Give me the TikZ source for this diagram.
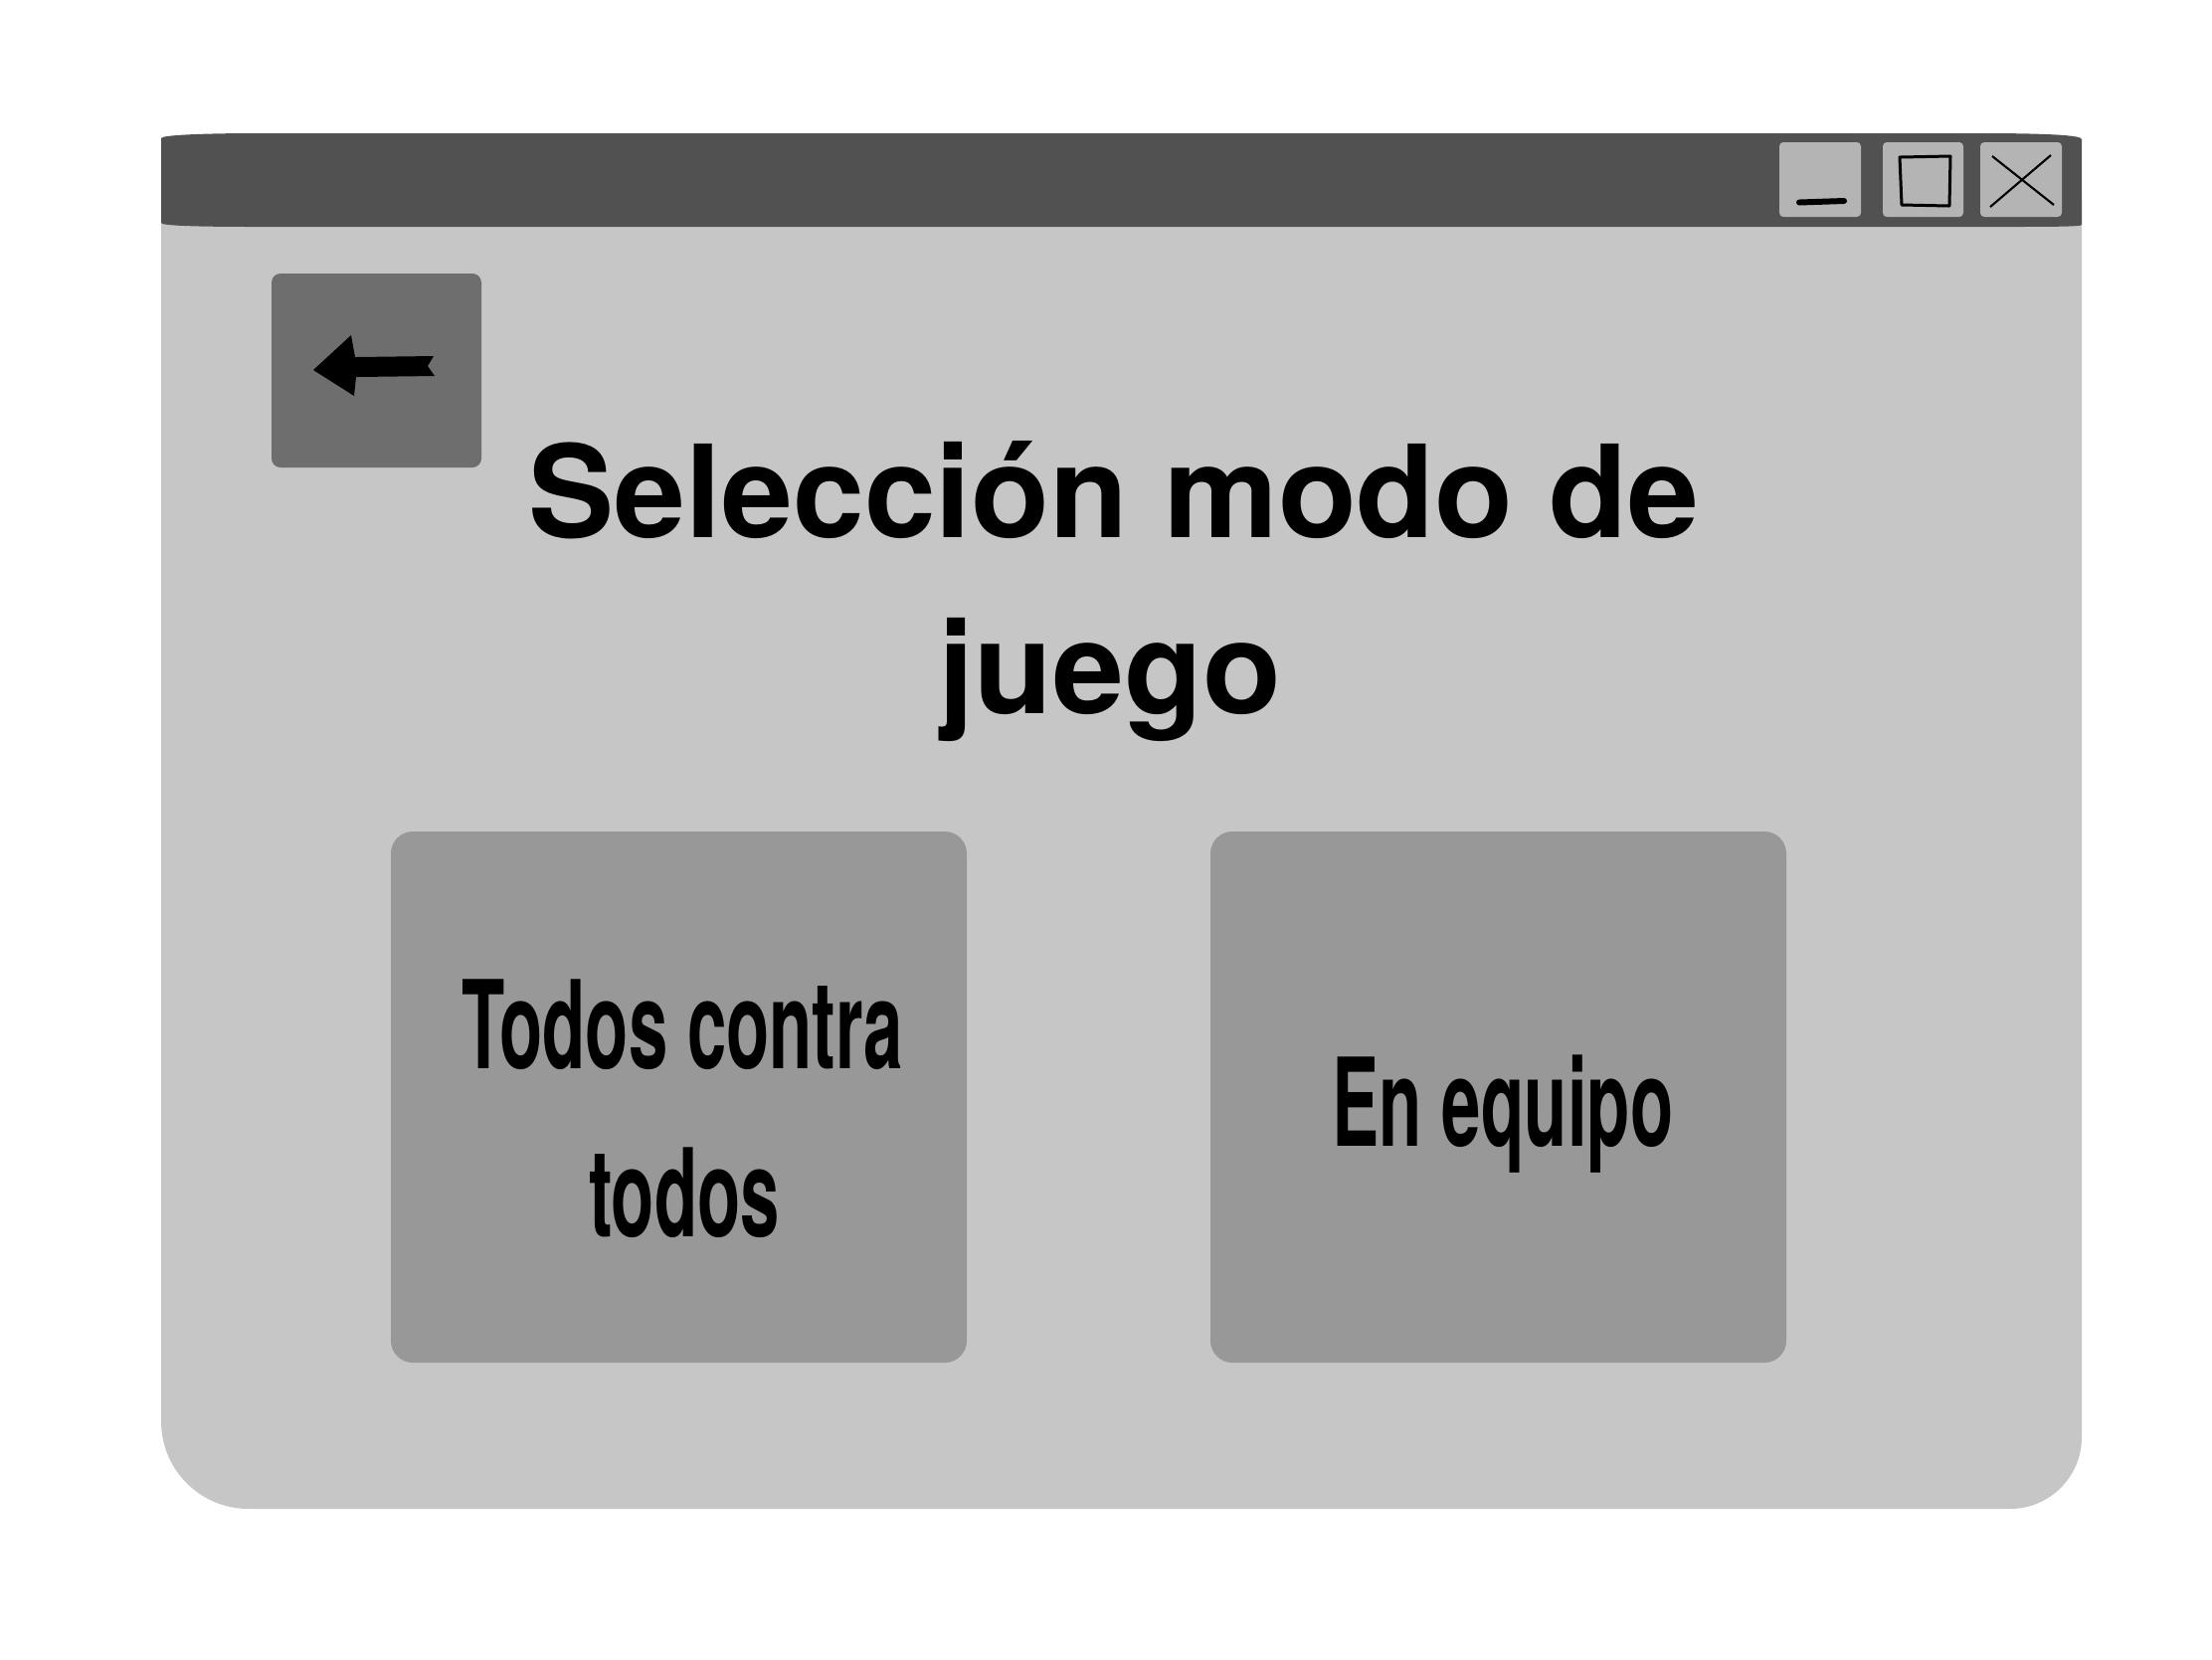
\documentclass[tikz,border=0pt]{standalone}
\usepackage{fontspec}
\setmainfont{TeX Gyre Heros}
\newfontfamily\headfont{TeX Gyre Heros}
\newfontfamily\btnfont{TeX Gyre Heros}[FakeStretch=0.575]
\definecolor{bodycol}{HTML}{C6C6C6}
\definecolor{barcol}{HTML}{515151}
\definecolor{backcol}{HTML}{6E6E6E}
\definecolor{bigcol}{HTML}{989898}
\definecolor{ctrlcol}{HTML}{B4B4B4}
\tikzset{
  ctrlbtn/.style={fill=ctrlcol, rounded corners=0.04cm},
  bigbtn/.style={fill=bigcol, rounded corners=0.22cm},
  headtext/.style={anchor=base, inner sep=0pt, font=\headfont\bfseries\fontsize{36.7}{44}\selectfont},
  btntext/.style={anchor=base, inner sep=0pt, font=\btnfont\bfseries\fontsize{35}{42}\selectfont},
}
\begin{document}
\begin{tikzpicture}[x=0.01cm,y=-0.01cm]
\fill[white] (0,0) rectangle (2224,1668);
\useasboundingbox (0,0) rectangle (2224,1668);
% window body
\fill[bodycol] (162,200) -- (2093,200) -- (2093,1445)
  .. controls (2093,1484.7) and (2060.7,1517) .. (2021,1517)
  -- (250,1517)
  .. controls (201.4,1517) and (162,1477.6) .. (162,1429) -- cycle;
% title bar
\fill[barcol] (162,139) .. controls (162,136) and (200,134) .. (260,134)
  -- (1990,134) .. controls (2060,134) and (2093,136) .. (2093,140)
  -- (2093,226) .. controls (2093,228) and (2060,228) .. (2000,228)
  -- (260,228) .. controls (200,228) and (162,227) .. (162,224) -- cycle;
% window controls
\fill[ctrlbtn] (1789,143) rectangle (1871,218);
\fill[ctrlbtn] (1893,143) rectangle (1974,218);
\fill[ctrlbtn] (1991,143) rectangle (2073,218);
\draw[line width=1.7pt, line cap=round] (1809,203.5) -- (1854,202);
\draw[line width=0.85pt, line join=round] (1910,158) -- (1961,157) -- (1960,207) -- (1912,206) -- cycle;
\draw[line width=0.6pt] (2003,157) -- (2065,206);
\draw[line width=0.6pt] (2062,156) -- (2001,208);
% back button
\fill[backcol, rounded corners=0.09cm] (273,275) rectangle (484,470);
\fill[black] (315,372) -- (353,337) -- (357,359) -- (436,358) -- (430,368) -- (437,378) -- (358,379) -- (356,398) -- cycle;
% title
\node[headtext] (title1) at (1120,540) {Selección modo de};
\node[headtext] (title2) at (1116,717) {juego};
% big buttons
\fill[bigbtn] (393,836) rectangle (972,1370);
\fill[bigbtn] (1217,836) rectangle (1796,1370);
\node[btntext] (t1) at (686,1074) {Todos contra};
\node[btntext] (t2) at (688,1243) {todos};
\node[btntext] (t3) at (1511,1152) {En equipo};
\end{tikzpicture}
\end{document}
